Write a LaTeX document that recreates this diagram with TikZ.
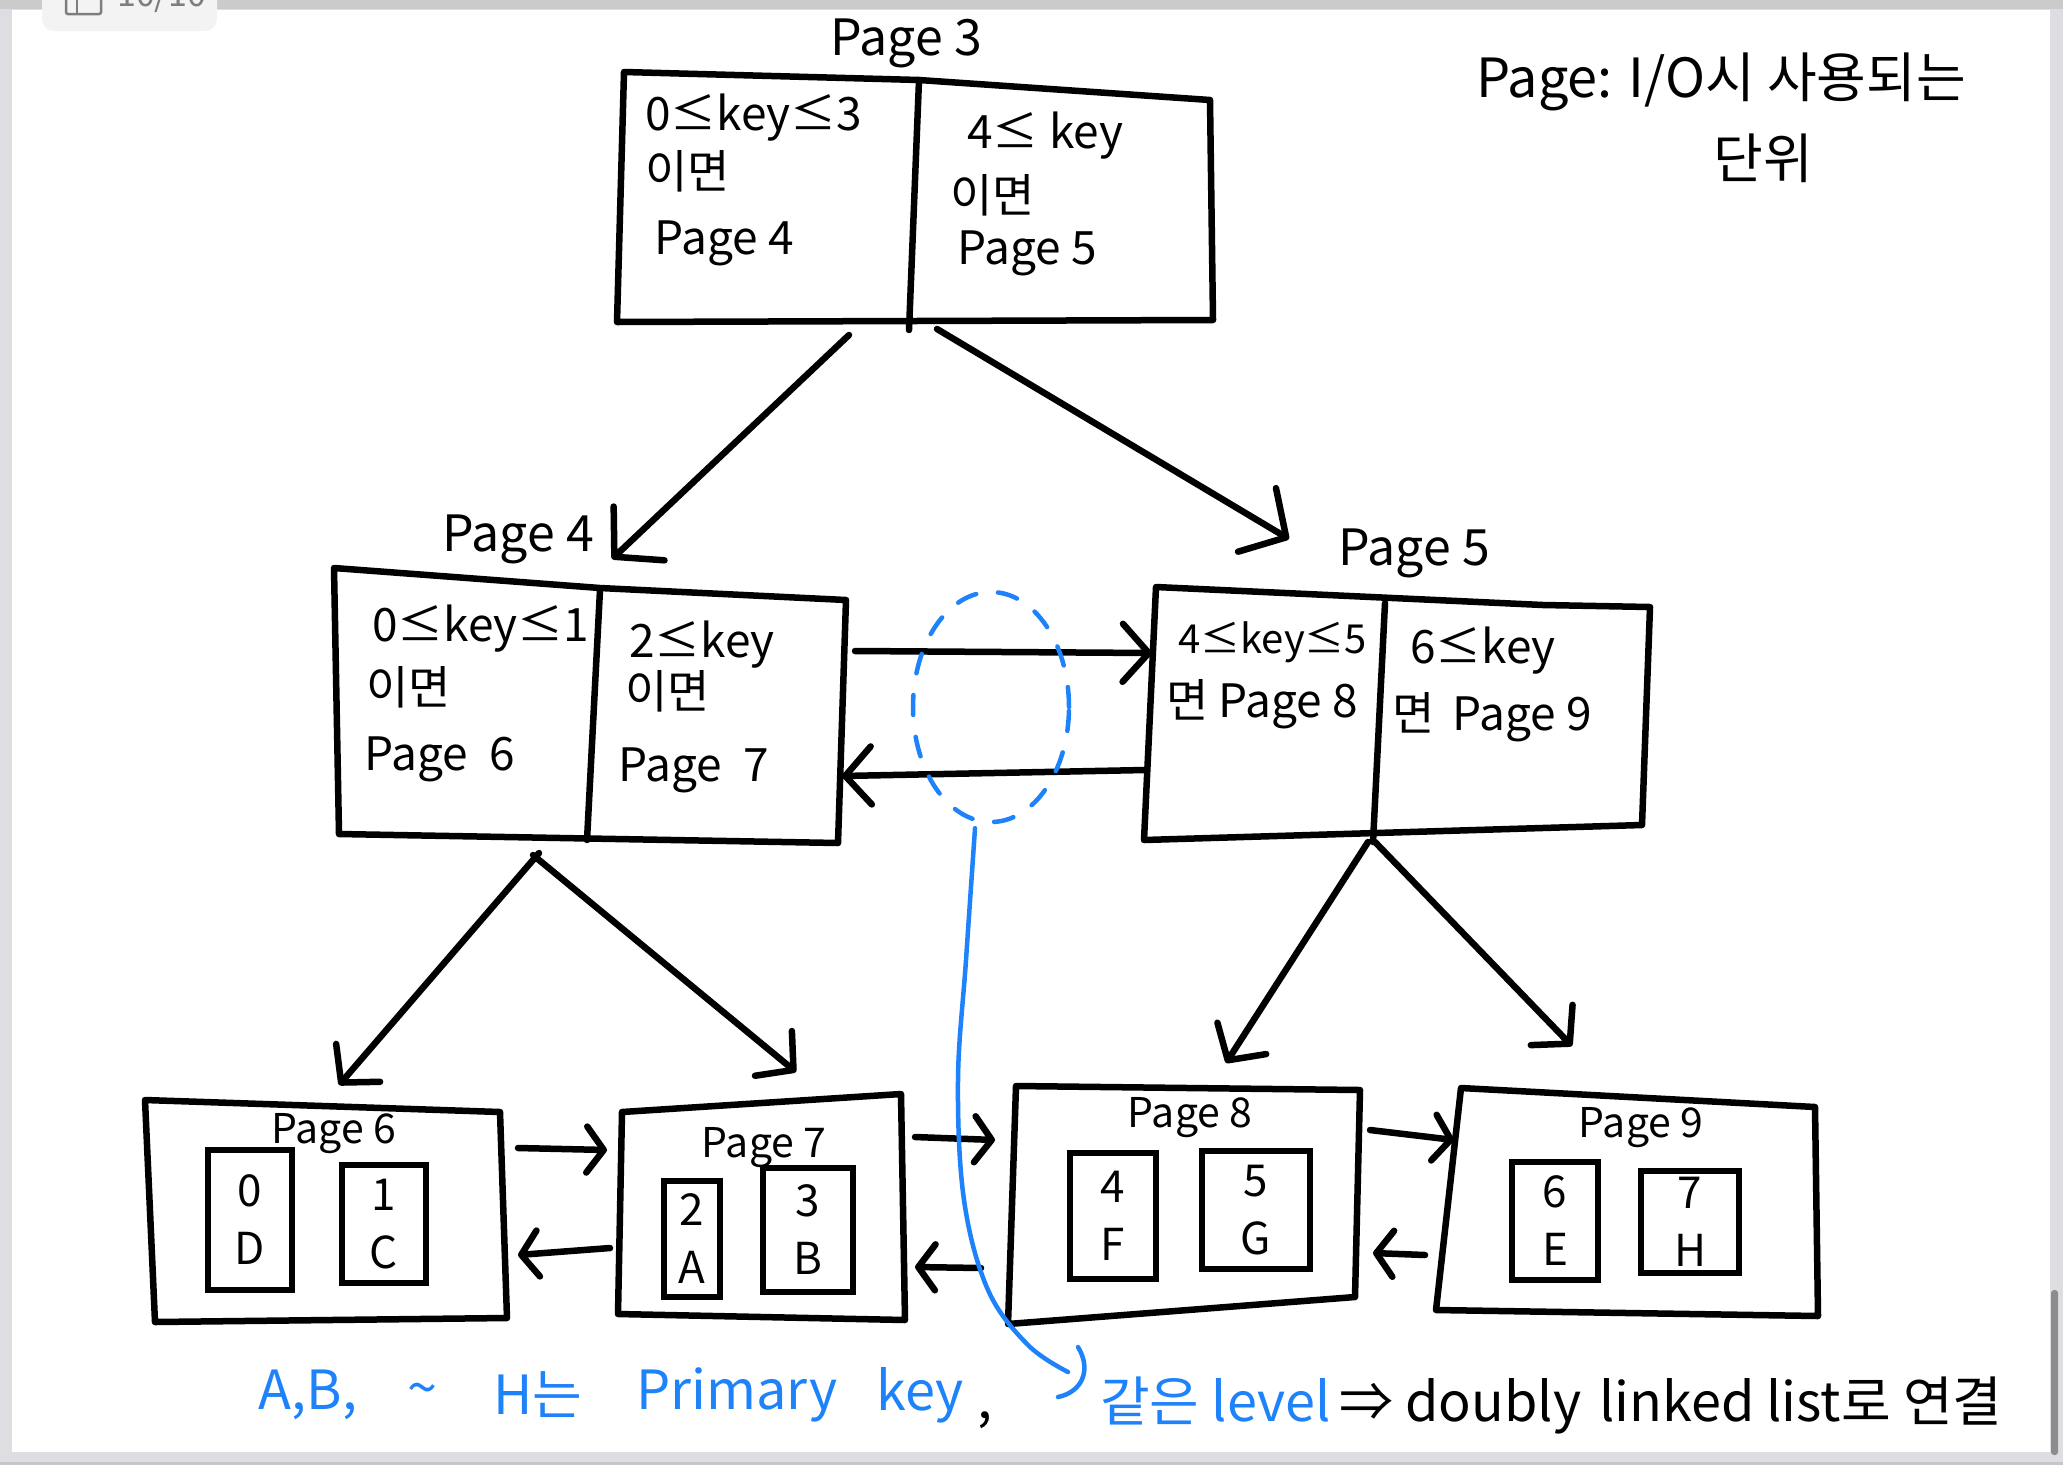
\documentclass[tikz,border=0pt]{standalone}
\usepackage{fontspec}
\setmainfont{Noto Sans CJK KR}
\usetikzlibrary{arrows.meta,shapes.geometric}
\definecolor{blueink}{RGB}{30,130,250}
\definecolor{framegray}{RGB}{222,222,226}
\definecolor{topgray}{RGB}{203,203,203}
\definecolor{tabgray}{RGB}{243,243,243}
\definecolor{tabtext}{RGB}{125,125,125}
\definecolor{scrollgray}{RGB}{140,140,140}
\begin{document}
\begin{tikzpicture}[x=1pt,y=-1pt,
  ink/.style={line width=6.5pt, line join=round, line cap=round},
  bigarr/.style={ink,-{Straight Barb[length=34pt,width=74pt,round]}},
  midarr/.style={ink,-{Straight Barb[length=26pt,width=58pt,round]}},
  smallarr/.style={ink,-{Straight Barb[length=17pt,width=46pt,round]}},
  bt/.style={font=\fontsize{46}{56}\selectfont, inner sep=0pt, anchor=west},
  lbl/.style={font=\fontsize{50}{60}\selectfont, inner sep=0pt},
  slbl/.style={font=\fontsize{41}{48}\selectfont, inner sep=0pt},
  keybox/.style={draw, line width=6pt, inner sep=0pt, align=center, font=\fontsize{44}{58}\selectfont},
  note/.style={font=\fontsize{54}{64}\selectfont, inner sep=0pt},
  blueline/.style={blueink, line width=4.5pt, line cap=round, line join=round}
]
\useasboundingbox (0,0) rectangle (2063,1465);
\clip (0,0) rectangle (2063,1465);
% screenshot frame
\fill[framegray] (0,0) rectangle (2063,1465);
\fill[topgray] (0,0) rectangle (2063,9);
\fill[gray!45] (0,1462) rectangle (2063,1465);
\fill[white] (12,10) rectangle (2050,1452);
\fill[tabgray, rounded corners=12pt] (42,-30) rectangle (217,31);
\draw[tabtext, line width=2.5pt, rounded corners=2pt] (66,-12) rectangle (101,14);
\draw[tabtext, line width=2.5pt] (77,-12) -- (77,14);
\node[text=tabtext, font=\fontsize{34}{40}\selectfont, inner sep=0pt, anchor=south west] (tab) at (117,13) {10/10};
\fill[scrollgray, rounded corners=3pt] (2051,1290) rectangle (2058,1455);

% ---------- Page 3 ----------
\draw[ink] (624,72) -- (919,80) -- (1210,100) -- (1213,320) -- (617,322) -- cycle;
\draw[ink] (919,80) -- (909,330);
\node[lbl] (l3) at (906,43) {Page 3};
\node[bt] (t3a) at (645,118) {0≤key≤3};
\node[bt] (t3b) at (645,171) {이면};
\node[bt] (t3c) at (654,243) {Page 4};
\node[bt] (t3d) at (967,136) {4≤ key};
\node[bt] (t3e) at (950,195) {이면};
\node[bt] (t3f) at (957,253) {Page 5};

% ---------- Page 4 ----------
\draw[ink] (334,568) -- (600,588) -- (846,600) -- (838,843) -- (339,834) -- cycle;
\draw[ink] (600,590) -- (587,840);
\node[lbl] (l4) at (518,539) {Page 4};
\node[bt] (t4a) at (372,629) {0≤key≤1};
\node[bt] (t4b) at (366,687) {이면};
\node[bt] (t4c) at (364,759) {Page\hspace{22pt}6};
\node[bt] (t4d) at (629,645) {2≤key};
\node[bt] (t4e) at (625,691) {이면};
\node[bt] (t4f) at (618,770) {Page\hspace{22pt}7};

% ---------- Page 5 ----------
\draw[ink] (1156,587) -- (1543,605) -- (1650,607) -- (1642,825) -- (1144,840) -- cycle;
\draw[ink] (1385,603) -- (1373,842);
\node[lbl] (l5) at (1414,553) {Page 5};
\node[bt, font=\fontsize{40}{48}\selectfont] (t5a) at (1178,642) {4≤key≤5};
\node[bt] (t5b) at (1166,704) {면 Page 8};
\node[bt] (t5c) at (1410,651) {6≤key};
\node[bt] (t5d) at (1392,717) {면\hspace{18pt}Page 9};

% ---------- leaf pages ----------
\draw[ink] (145,1100) -- (500,1112) -- (507,1318) -- (155,1322) -- cycle;
\node[slbl] (l6) at (334,1134) {Page 6};
\node[keybox, minimum width=84pt, minimum height=140pt] (k0) at (250,1220) {0\\D};
\node[keybox, minimum width=84pt, minimum height=118pt] (k1) at (384,1224) {1\\C};

\draw[ink] (622,1112) -- (901,1094) -- (905,1320) -- (618,1314) -- cycle;
\node[slbl] (l7) at (764,1148) {Page 7};
\node[keybox, minimum width=56pt, minimum height=116pt] (k2) at (692,1239) {2\\A};
\node[keybox, minimum width=90pt, minimum height=124pt] (k3) at (808,1230) {3\\B};

\draw[ink] (1016,1086) -- (1360,1090) -- (1355,1297) -- (1008,1324) -- cycle;
\node[slbl] (l8) at (1190,1118) {Page 8};
\node[keybox, minimum width=86pt, minimum height=126pt] (k4) at (1113,1216) {4\\F};
\node[keybox, minimum width=108pt, minimum height=118pt] (k5) at (1256,1210) {5\\G};

\draw[ink] (1461,1088) -- (1815,1107) -- (1818,1316) -- (1436,1310) -- cycle;
\node[slbl] (l9) at (1641,1128) {Page 9};
\node[keybox, minimum width=86pt, minimum height=118pt] (k6) at (1555,1221) {6\\E};
\node[keybox, minimum width=98pt, minimum height=102pt] (k7) at (1690,1222) {7\\H};

% ---------- tree arrows ----------
\coordinate (a1s) at (849,335);  \coordinate (a1e) at (612,559);
\coordinate (a2s) at (937,329);  \coordinate (a2e) at (1289,539);
\coordinate (a3s) at (539,853);  \coordinate (a3e) at (339,1085);
\coordinate (a4s) at (533,855);  \coordinate (a4e) at (796,1072);
\coordinate (a5s) at (1368,842); \coordinate (a5e) at (1226,1063);
\coordinate (a6s) at (1375,842); \coordinate (a6e) at (1572,1046);
\draw[bigarr] (a1s) -- (a1e);
\draw[bigarr] (a2s) -- (a2e);
\draw[midarr] (a3s) -- (a3e);
\draw[midarr] (a4s) -- (a4e);
\draw[midarr] (a5s) -- (a5e);
\draw[midarr] (a6s) -- (a6e);

% ---------- sibling links ----------
\coordinate (b1s) at (855,651);  \coordinate (b1e) at (1152,653);
\coordinate (b2s) at (1145,770); \coordinate (b2e) at (842,776);
\draw[midarr] (b1s) -- (b1e);
\draw[midarr] (b2s) -- (b2e);

\coordinate (c1s) at (518,1148);  \coordinate (c1e) at (607,1150);
\coordinate (c2s) at (610,1248);  \coordinate (c2e) at (518,1255);
\coordinate (c3s) at (915,1137);  \coordinate (c3e) at (995,1140);
\coordinate (c4s) at (981,1268);  \coordinate (c4e) at (915,1267);
\coordinate (c5s) at (1370,1130); \coordinate (c5e) at (1454,1140);
\coordinate (c6s) at (1425,1255); \coordinate (c6e) at (1373,1253);
\draw[smallarr] (c1s) -- (c1e);
\draw[smallarr] (c2s) -- (c2e);
\draw[smallarr] (c3s) -- (c3e);
\draw[smallarr] (c4s) -- (c4e);
\draw[smallarr] (c5s) -- (c5e);
\draw[smallarr] (c6s) -- (c6e);

% ---------- blue annotation ----------
\node[draw=blueink, ellipse, line width=4.5pt, line cap=round, dash pattern=on 20pt off 22pt,
      minimum width=156pt, minimum height=230pt, inner sep=0pt] (same) at (991,707) {};
\coordinate (bstart) at ([xshift=-16pt,yshift=-4pt]same.south);
\coordinate (bend) at (1068,1372);
\draw[blueline] plot[smooth, tension=0.6] coordinates {(bstart) (966,960) (958,1080) (964,1200) (988,1290) (1028,1345) (bend)};
\coordinate (hk1) at (1078,1347); \coordinate (hk2) at (1058,1397);
\draw[blueline] (hk1) .. controls (1092,1370) and (1082,1392) .. (hk2);

% ---------- notes ----------
\node[note] (n1) at (1721,82) {Page: I/O시 사용되는};
\node[note] (n2) at (1763,158) {단위};

\node[note, text=blueink] (m1) at (308,1395) {A,B,};
\node[note, text=blueink] (m2) at (422,1395) {\textasciitilde};
\node[note, text=blueink] (m3) at (538,1395) {H는};
\node[note, text=blueink] (m4) at (737,1395) {Primary};
\node[note, text=blueink] (m5) at (920,1395) {key};
\node[note] (m6) at (985,1420) {,};

\node[note, anchor=west] (m7) at (1100,1405) {{\color{blueink}같은 level}\,⇒ doubly\hspace{18pt}linked list로 연결};
\end{tikzpicture}
\end{document}
